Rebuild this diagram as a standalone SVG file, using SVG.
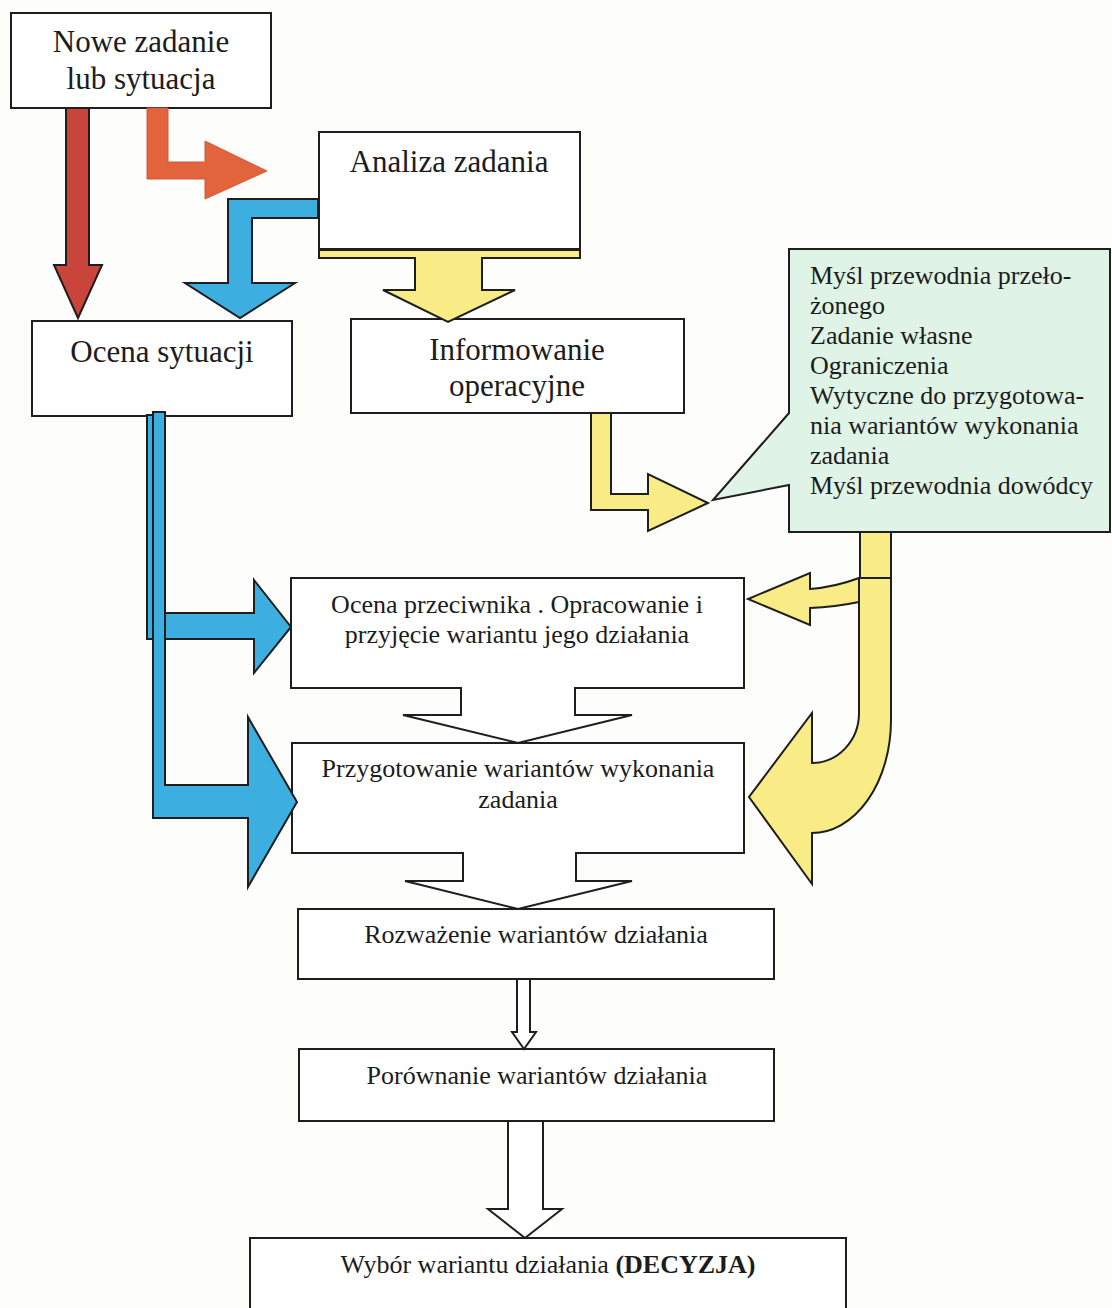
<svg xmlns="http://www.w3.org/2000/svg" width="1112" height="1308" viewBox="0 0 1112 1308">
<style>
.bg{fill:#fdfdfc}
.box{fill:#ffffff;stroke:#1e1e1e;stroke-width:2}
.t{font-family:"Liberation Serif","Times New Roman",serif;fill:#1c1c1c;text-anchor:middle}
.big{font-size:31px}
.mid{font-size:26px}
.cl{font-family:"Liberation Serif","Times New Roman",serif;fill:#1c1c1c;font-size:26px}
.blue{fill:#3caee0;stroke:#1e1e1e;stroke-width:2;stroke-linejoin:miter}
.yel{fill:#f9eb86;stroke:#1e1e1e;stroke-width:2}
.red{fill:#c9453b;stroke:#1e1e1e;stroke-width:2}
.ora{fill:#e2643c;stroke:#d9553a;stroke-width:1}
.hol{fill:#ffffff;stroke:#1e1e1e;stroke-width:2}
</style>
<rect class="bg" x="0" y="0" width="1112" height="1308"/>

<g id="n_nowe">
<rect class="box" x="11" y="13" width="260" height="95"/>
<text class="t big" x="141" y="52">Nowe zadanie</text>
<text class="t big" x="141" y="89">lub sytuacja</text>
</g>

<g id="n_analiza">
<rect class="box" x="319" y="132" width="261" height="117"/>
<text class="t big" x="449" y="172">Analiza zadania</text>
</g>

<g id="n_ocena_sytuacji">
<rect class="box" x="32" y="321" width="260" height="95"/>
<text class="t big" x="162" y="362">Ocena sytuacji</text>
</g>

<g id="n_informowanie">
<rect class="box" x="351" y="319" width="333" height="94"/>
<text class="t big" x="517" y="360">Informowanie</text>
<text class="t big" x="517" y="396">operacyjne</text>
</g>

<g id="n_callout">
<path d="M789,249 H1110 V532 H789 V485 L713,500 L789,413 Z" fill="#dff3e6" stroke="#1e1e1e" stroke-width="2"/>
<text class="cl" x="810" y="284">Myśl przewodnia przeło-</text>
<text class="cl" x="810" y="314">żonego</text>
<text class="cl" x="810" y="344">Zadanie własne</text>
<text class="cl" x="810" y="374">Ograniczenia</text>
<text class="cl" x="810" y="404">Wytyczne do przygotowa-</text>
<text class="cl" x="810" y="434">nia wariantów wykonania</text>
<text class="cl" x="810" y="464">zadania</text>
<text class="cl" x="810" y="494">Myśl przewodnia dowódcy</text>
</g>

<g id="n_ocena_przeciwnika">
<path class="box" d="M291,578 H744 V688 H575 V715 H632 L518,743 L403,715 H461 V688 H291 Z"/>
<text class="t mid" x="517" y="613">Ocena przeciwnika . Opracowanie i</text>
<text class="t mid" x="517" y="643">przyjęcie wariantu jego działania</text>
</g>

<g id="n_przygotowanie">
<path class="box" d="M292,743 H744 V853 H576 V881 H632 L518,909 L405,881 H463 V853 H292 Z"/>
<text class="t mid" x="518" y="777">Przygotowanie wariantów wykonania</text>
<text class="t mid" x="518" y="808">zadania</text>
</g>

<g id="n_rozwazenie">
<rect class="box" x="298" y="909" width="476" height="70"/>
<text class="t mid" x="536" y="943">Rozważenie wariantów działania</text>
</g>

<g id="n_porownanie">
<rect class="box" x="299" y="1049" width="475" height="72"/>
<text class="t mid" x="537" y="1084">Porównanie wariantów działania</text>
</g>

<g id="n_wybor">
<rect class="box" x="250" y="1238" width="596" height="90"/>
<text class="t mid" x="548" y="1273">Wybór wariantu działania <tspan font-weight="bold">(DECYZJA)</tspan></text>
</g>

<g id="connectors">
<polygon class="red" points="66,108 89,108 89,265 102,265 78,318 54,265 66,265"/>
<polygon class="ora" points="147,108 168,108 168,162 205,162 205,141 267,171 205,199 205,179 147,179"/>
<polygon class="blue" points="318,199 318,218 252,218 252,283 295,283 240,318 185,283 228,283 228,199"/>
<path class="yel" d="M319,250 H580 V258 H482 V290 H515 L448,322 L383,290 H415 V258 H319 Z"/>
<polygon class="yel" points="591,413 611,413 611,494 648,494 648,474 708,503 648,531 648,510 591,510"/>
<polygon class="blue" points="147,415 160,415 160,613 254,613 254,580 291,627 254,673 254,639 147,639"/>
<polygon class="blue" points="153,412 165,412 165,785 248,785 248,717 297,802 248,887 248,818 153,818"/>
<rect class="yel" x="860" y="532" width="31" height="46"/>
<path class="yel" d="M859,578 Q835,587 810,589 V573 L748,599 L810,625 V608 Q835,607 859,602 Z"/>
<path class="yel" d="M859,578 H891 V720 A79,113 0 0 1 812,833 V884 L749,797 L812,713 V763 A47,50 0 0 0 859,713 Z"/>
<polygon class="hol" points="517,979 530,979 530,1032 536,1032 524,1049 512,1032 517,1032"/>
<polygon class="hol" points="508,1121 543,1121 543,1209 562,1209 525,1238 488,1209 508,1209"/>
</g>
</svg>
